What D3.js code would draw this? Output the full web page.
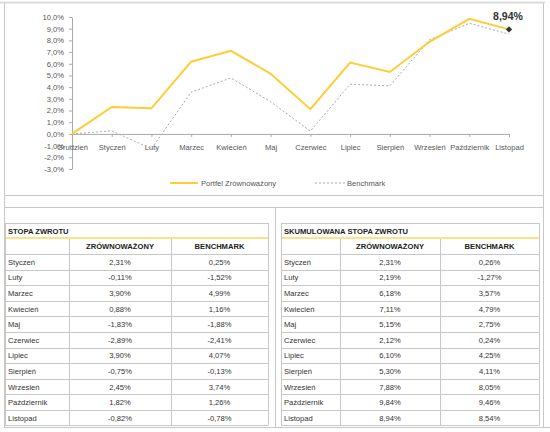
<!DOCTYPE html>
<html>
<head>
<meta charset="utf-8">
<script src="https://cdn.jsdelivr.net/npm/d3@7"></script>
<style>
  body { margin: 0; background: #fff; }
  svg text { font-family: "Liberation Sans", Arial, sans-serif; }
</style>
</head>
<body>
<script>
// chart data (cumulative return, %)
var months = ["Grudzień", "Styczeń", "Luty", "Marzec", "Kwiecień", "Maj", "Czerwiec",
  "Lipiec", "Sierpień", "Wrzesień", "Październik", "Listopad"];
var portfel = [0, 2.31, 2.19, 6.18, 7.11, 5.15, 2.12, 6.10, 5.30, 7.88, 9.84, 8.94];
var benchmark = [0, 0.26, -1.27, 3.57, 4.79, 2.75, 0.24, 4.25, 4.11, 8.05, 9.46, 8.54];
var yTicks = [-3, -2, -1, 0, 1, 2, 3, 4, 5, 6, 7, 8, 9, 10];
var seriesNames = ["Portfel Zrównoważony", "Benchmark"];

// table data
var tableMonths = months.slice(1);
var colHeads = ["ZRÓWNOWAŻONY", "BENCHMARK"];
var stopaZr = [2.31, -0.11, 3.90, 0.88, -1.83, -2.89, 3.90, -0.75, 2.45, 1.82, -0.82];
var stopaBm = [0.25, -1.52, 4.99, 1.16, -1.88, -2.41, 4.07, -0.13, 3.74, 1.26, -0.78];
var skumZr = [2.31, 2.19, 6.18, 7.11, 5.15, 2.12, 6.10, 5.30, 7.88, 9.84, 8.94];
var skumBm = [0.26, -1.27, 3.57, 4.79, 2.75, 0.24, 4.25, 4.11, 8.05, 9.46, 8.54];

var pl = d3.formatLocale({decimal: ",", thousands: " ", grouping: [3], currency: ["", " zł"], minus: "-"});
var f1 = pl.format(".1f"), f2 = pl.format(".2f");

var gridColor = "#c8c8c8";
var yellow = "#ffcc33";

var svg = d3.select("body").append("svg")
  .attr("width", 550)
  .attr("height", 432);

// outer frame
var frame = svg.append("g").attr("stroke", gridColor).attr("fill", "none");
frame.append("line").attr("x1", 0).attr("x2", 545).attr("y1", 2.5).attr("y2", 2.5).attr("stroke", "#dcdcdc").attr("stroke-width", 2);
frame.append("line").attr("x1", 4.5).attr("x2", 4.5).attr("y1", 3).attr("y2", 428);
frame.append("line").attr("x1", 543.5).attr("x2", 543.5).attr("y1", 3).attr("y2", 428);
frame.append("line").attr("x1", 4).attr("x2", 544).attr("y1", 195.5).attr("y2", 195.5);
frame.append("line").attr("x1", 4).attr("x2", 544).attr("y1", 207.5).attr("y2", 207.5);
frame.append("line").attr("x1", 275.5).attr("x2", 275.5).attr("y1", 207).attr("y2", 428);
frame.append("line").attr("x1", 4).attr("x2", 550).attr("y1", 427.5).attr("y2", 427.5);

// ---- line chart ----
var x = d3.scalePoint().domain(months).range([72, 509]);
var y = d3.scaleLinear().domain([-3, 10]).range([169, 17]);

var yAxis = svg.append("g")
  .attr("transform", "translate(72,0)")
  .call(d3.axisLeft(y).tickValues(yTicks).tickSize(3).tickSizeOuter(0).tickPadding(5)
    .tickFormat(function (d) { return f1(d) + "%"; }));

var xAxis = svg.append("g")
  .attr("transform", "translate(0," + y(0) + ")")
  .call(d3.axisBottom(x).tickSize(3).tickSizeOuter(0).tickPadding(8));

[yAxis, xAxis].forEach(function (a) {
  a.select(".domain").attr("stroke", "#aaa");
  a.selectAll(".tick line").attr("stroke", "#aaa");
  a.selectAll("text").attr("fill", "#555").style("font-size", "7.6px")
    .style("font-family", "'Liberation Sans', Arial, sans-serif");
});

var line = d3.line()
  .x(function (d, i) { return x(months[i]); })
  .y(function (d) { return y(d); });

svg.append("path")
  .datum(benchmark)
  .attr("d", line)
  .attr("fill", "none")
  .attr("stroke", "#aaa")
  .attr("stroke-width", 1)
  .attr("stroke-dasharray", "2,2");

svg.append("path")
  .datum(portfel)
  .attr("d", line)
  .attr("fill", "none")
  .attr("stroke", yellow)
  .attr("stroke-width", 2);

// last point marker + label
var last = portfel.length - 1;
svg.append("path")
  .attr("d", d3.symbol(d3.symbolSquare).size(20))
  .attr("transform", "translate(" + x(months[last]) + "," + y(portfel[last]) + ") rotate(45)")
  .attr("fill", "#333");

svg.append("text")
  .attr("x", x(months[last]) - 1)
  .attr("y", y(portfel[last]) - 9)
  .attr("text-anchor", "middle")
  .attr("font-weight", "bold")
  .attr("font-size", "10.5px")
  .attr("fill", "#333")
  .text(f2(portfel[last]) + "%");

// legend
var legend = svg.append("g").style("font-size", "7.6px").attr("fill", "#555");
legend.append("line").attr("x1", 170).attr("x2", 198).attr("y1", 183).attr("y2", 183)
  .attr("stroke", yellow).attr("stroke-width", 2);
legend.append("text").attr("x", 201).attr("y", 185.5).text(seriesNames[0]);
legend.append("line").attr("x1", 315).attr("x2", 345).attr("y1", 183).attr("y2", 183)
  .attr("stroke", "#aaa").attr("stroke-dasharray", "2,2");
legend.append("text").attr("x", 347).attr("y", 185.5).text(seriesNames[1]);

// ---- tables ----
function drawTable(cols, title, valsA, valsB) {
  var g = svg.append("g");
  var left = cols[0], right = cols[3];
  var top = 223, titleBottom = 238, headBottom = 254;
  var rows = d3.scaleBand().domain(tableMonths).range([headBottom, 425.5]);

  // title row
  g.append("line").attr("x1", left).attr("x2", right).attr("y1", top + 0.5).attr("y2", top + 0.5).attr("stroke", gridColor);
  g.append("text").attr("x", left + 3).attr("y", top + 10.5)
    .attr("font-weight", "bold").attr("font-size", "7.6px").attr("fill", "#222")
    .text(title);
  g.append("line").attr("x1", left).attr("x2", right).attr("y1", titleBottom).attr("y2", titleBottom)
    .attr("stroke", "#fde08a").attr("stroke-width", 2);

  // horizontal lines
  g.selectAll("line.h").data(tableMonths.concat(["end"])).enter().append("line")
    .attr("class", "h")
    .attr("x1", left).attr("x2", right)
    .attr("y1", function (d) { return d === "end" ? 425.5 : Math.round(rows(d)) + 0.5; })
    .attr("y2", function (d) { return d === "end" ? 425.5 : Math.round(rows(d)) + 0.5; })
    .attr("stroke", gridColor);

  // vertical lines
  g.selectAll("line.v").data(cols).enter().append("line")
    .attr("class", "v")
    .attr("x1", function (d) { return d + 0.5; }).attr("x2", function (d) { return d + 0.5; })
    .attr("y1", function (d, i) { return (i === 0 || i === 3) ? top : titleBottom + 1; })
    .attr("y2", 425.5)
    .attr("stroke", gridColor);

  // headers
  g.selectAll("text.head").data(colHeads).enter().append("text")
    .attr("x", function (d, i) { return (cols[i + 1] + cols[i + 2]) / 2; })
    .attr("y", titleBottom + 11)
    .attr("text-anchor", "middle").attr("font-weight", "bold")
    .attr("font-size", "7.6px").attr("fill", "#222")
    .text(function (d) { return d; });

  // body
  var r = g.selectAll("g.row").data(tableMonths).enter().append("g")
    .attr("transform", function (d) { return "translate(0," + (rows(d) + rows.bandwidth() / 2 + 3) + ")"; })
    .attr("font-size", "7.6px").attr("fill", "#333");
  r.append("text").attr("x", left + 3).text(function (d) { return d; });
  r.append("text").attr("x", (cols[1] + cols[2]) / 2).attr("text-anchor", "middle")
    .text(function (d, i) { return f2(valsA[i]) + "%"; });
  r.append("text").attr("x", (cols[2] + cols[3]) / 2).attr("text-anchor", "middle")
    .text(function (d, i) { return f2(valsB[i]) + "%"; });
}

drawTable([5, 69, 171, 268], "STOPA ZWROTU", stopaZr, stopaBm);
drawTable([281, 340, 440, 539], "SKUMULOWANA STOPA ZWROTU", skumZr, skumBm);
</script>
</body>
</html>
